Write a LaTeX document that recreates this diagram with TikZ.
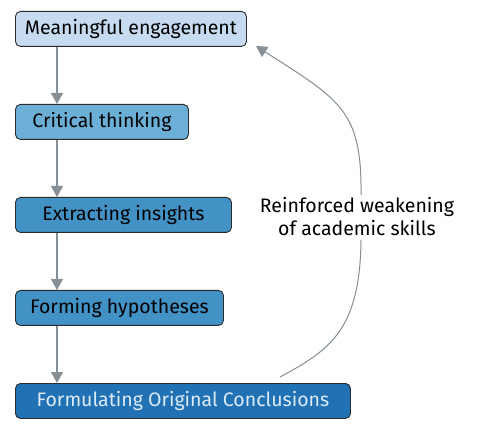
\documentclass[tikz,border=0pt]{standalone}
\usepackage{fontspec}
\setmainfont{Fira Sans}
\usetikzlibrary{arrows.meta}
\definecolor{c1}{HTML}{C6DBEF}
\definecolor{c2}{HTML}{6BAED6}
\definecolor{c3}{HTML}{4292C6}
\definecolor{c5}{HTML}{2171B5}
\definecolor{t5}{HTML}{DEEBF7}
\definecolor{edgec}{HTML}{868E96}
\definecolor{bordc}{HTML}{2B2B2B}
\tikzset{
  box/.style={draw=bordc, line width=0.9pt, rounded corners=5pt, anchor=north west,
    minimum height=35pt, inner sep=0pt, font=\fontsize{19.5}{22}\selectfont},
  link/.style={draw=edgec, line width=1.2pt, -{Triangle[length=11pt,width=12pt]}},
}
\begin{document}
\begin{tikzpicture}[x=1pt,y=-1pt]
\useasboundingbox (0,0) rectangle (479,427);
\node[box, fill=c1, minimum width=231pt] (n1) at (15,11) {Meaningful engagement};
\node[box, fill=c2, minimum width=173pt] (n2) at (15,104) {Critical thinking};
\node[box, fill=c3, minimum width=216pt] (n3) at (15,197) {Extracting insights};
\node[box, fill=c3, minimum width=208pt] (n4) at (15,290) {Forming hypotheses};
\node[box, fill=c5, minimum width=335pt, text=t5] (n5) at (15,383) {Formulating Original Conclusions};
\draw[link] (n1.south west)++(42,0) coordinate (a1) -- (a1 |- n2.north);
\draw[link] (n2.south west)++(42,0) coordinate (a2) -- (a2 |- n3.north);
\draw[link] (n3.south west)++(42,0) coordinate (a3) -- (a3 |- n4.north);
\draw[link] (n4.south west)++(42,0) coordinate (a4) -- (a4 |- n5.north);
\coordinate (cs) at (280,377);
\coordinate (ce) at (256,46);
\node[fill=white, align=center, inner sep=2pt, font=\fontsize{19.5}{23}\selectfont] (lab) at (357,217) {Reinforced weakening\\of academic skills};
\draw[draw=edgec, line width=1pt] (cs) .. controls (330,350) and (360,330) .. (361,240);
\draw[link, line width=1pt] (361,195) .. controls (362,110) and (340,100) .. (ce);
\end{tikzpicture}
\end{document}
